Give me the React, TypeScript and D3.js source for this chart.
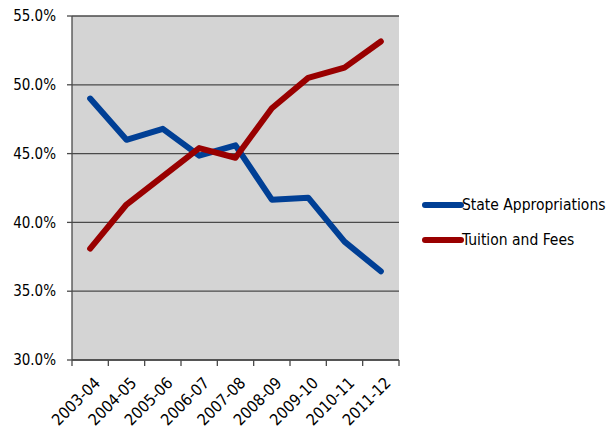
import React from "react";
import * as d3 from "d3";

const years = ["2003-04", "2004-05", "2005-06", "2006-07", "2007-08", "2008-09", "2009-10", "2010-11", "2011-12"];
const stateAppropriations = [49.0, 46.0, 46.8, 44.85, 45.6, 41.65, 41.8, 38.6, 36.45];
const tuitionAndFees = [38.1, 41.3, 43.35, 45.4, 44.7, 48.3, 50.5, 51.25, 53.15];
const yTicks = [30, 35, 40, 45, 50, 55];
const seriesNames = ["State Appropriations", "Tuition and Fees"];
const seriesColors = ["#003F95", "#990000"];

const W = 615;
const H = 435;
const plot = { left: 72, right: 399, top: 16, bottom: 360 };
const FONT = "'Liberation Sans Narrow', 'Arial Narrow', 'DejaVu Sans Condensed', sans-serif";

export default function App() {
  const x = d3.scaleBand<string>().domain(years).range([plot.left, plot.right]);
  const y = d3.scaleLinear().domain([30, 55]).range([plot.bottom, plot.top]);
  const line = d3
    .line<number>()
    .x((_, i) => (x(years[i]) as number) + x.bandwidth() / 2)
    .y((v) => y(v));
  const series = [stateAppropriations, tuitionAndFees];
  const xTickPositions = years.map((c) => x(c) as number).concat([plot.right]);

  return (
    <svg width={W} height={H} style={{ position: "absolute", left: 0, top: 0, background: "#fff" }}>
      <rect x={plot.left} y={plot.top} width={plot.right - plot.left} height={plot.bottom - plot.top} fill="#D4D4D4" />
      {yTicks.map((t) => (
        <g key={t}>
          <line x1={plot.left} x2={plot.right} y1={y(t)} y2={y(t)} stroke="#4a4a4a" strokeWidth={1.3} />
          <line x1={plot.left - 5} x2={plot.left} y1={y(t)} y2={y(t)} stroke="#4a4a4a" strokeWidth={1.3} />
          <text x={56} y={y(t)} dy="0.35em" textAnchor="end" fontFamily={FONT} fontSize={15} fill="#000">
            {t.toFixed(1)}%
          </text>
        </g>
      ))}
      <line x1={plot.left} x2={plot.left} y1={plot.top} y2={plot.bottom} stroke="#4a4a4a" strokeWidth={1.3} />
      <line x1={plot.left} x2={plot.right} y1={plot.bottom} y2={plot.bottom} stroke="#4a4a4a" strokeWidth={1.5} />
      {xTickPositions.map((p, i) => (
        <line key={i} x1={p} x2={p} y1={plot.bottom} y2={plot.bottom + 6} stroke="#4a4a4a" strokeWidth={1.3} />
      ))}
      {years.map((c) => {
        const cx = (x(c) as number) + x.bandwidth() / 2 + 7;
        const cy = plot.bottom + 20;
        return (
          <text
            key={c}
            x={cx}
            y={cy}
            textAnchor="end"
            dy="0.35em"
            transform={`rotate(-45 ${cx} ${cy})`}
            fontFamily={FONT}
            fontSize={16}
            fill="#000"
          >
            {c}
          </text>
        );
      })}
      {series.map((s, i) => (
        <path
          key={i}
          d={line(s) as string}
          fill="none"
          stroke={seriesColors[i]}
          strokeWidth={6}
          strokeLinejoin="round"
          strokeLinecap="round"
        />
      ))}
      {seriesNames.map((n, i) => {
        const ly = 205 + i * 35;
        return (
          <g key={n}>
            <line x1={425} x2={461} y1={ly} y2={ly} stroke={seriesColors[i]} strokeWidth={6} strokeLinecap="round" />
            <text x={462} y={ly} dy="0.35em" fontFamily={FONT} fontSize={15.5} fill="#000">
              {n}
            </text>
          </g>
        );
      })}
    </svg>
  );
}
